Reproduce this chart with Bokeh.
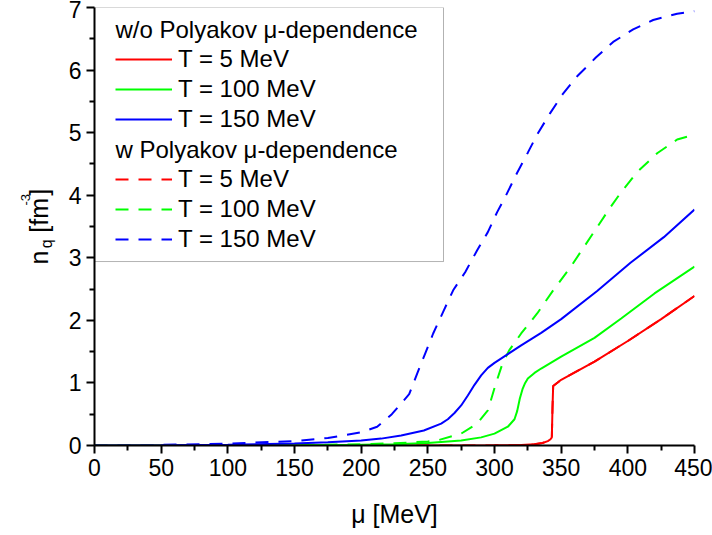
import math
from bokeh.plotting import figure
from bokeh.layouts import row
from bokeh.models import Range1d, Legend, LegendItem, Label, BoxAnnotation, FixedTicker, ColumnDataSource
from bokeh.core.properties import value
from bokeh.embed import file_html
from bokeh.resources import INLINE

# ---------------- data ----------------
x_ticks = [0, 50, 100, 150, 200, 250, 300, 350, 400, 450]
x_minor = [25, 75, 125, 175, 225, 275, 325, 375, 425]
y_ticks = [0, 1, 2, 3, 4, 5, 6, 7]
y_minor = [0.5, 1.5, 2.5, 3.5, 4.5, 5.5, 6.5]

# w/o Polyakov mu-dependence
mu_t5 = [0, 100, 200, 300, 320, 330, 336, 340, 342, 343, 343.5, 344, 350, 375, 400, 425, 450]
n_t5 = [0, 0, 0, 0.002, 0.008, 0.02, 0.04, 0.07, 0.1, 0.13, 0.6, 0.95, 1.05, 1.34, 1.67, 2.02, 2.39]

mu_t100 = [0, 100, 150, 200, 225, 250, 275, 290, 300, 310, 315, 317, 319, 321, 323, 325, 330, 335,
           350, 375, 395, 420, 450]
n_t100 = [0, 0.002, 0.005, 0.012, 0.02, 0.04, 0.08, 0.13, 0.19, 0.3, 0.42, 0.55, 0.75, 0.9, 1.0, 1.07,
          1.16, 1.23, 1.42, 1.72, 2.03, 2.43, 2.86]

mu_t150 = [0, 50, 100, 150, 175, 200, 215, 230, 247, 260, 265, 270, 275, 280, 285, 290, 295, 300,
           310, 320, 335, 350, 377, 402, 427, 450]
n_t150 = [0, 0.004, 0.012, 0.03, 0.05, 0.08, 0.11, 0.16, 0.24, 0.35, 0.42, 0.52, 0.64, 0.8, 0.97,
          1.12, 1.24, 1.32, 1.46, 1.6, 1.8, 2.02, 2.47, 2.92, 3.33, 3.77]

# w Polyakov mu-dependence
mu_t5_w = [0, 100, 200, 300, 320, 330, 336, 340, 342, 343, 343.5, 344, 350, 375, 400, 425, 450]
n_t5_w = [0, 0, 0, 0.002, 0.008, 0.02, 0.04, 0.07, 0.1, 0.13, 0.6, 0.95, 1.05, 1.34, 1.67, 2.02, 2.39]

mu_t100_w = [0, 100, 150, 200, 225, 250, 257, 275, 287, 295, 301, 306, 311, 320, 332, 344, 357, 367,
             377, 387, 395, 407, 422, 437, 450]
n_t100_w = [0, 0.003, 0.008, 0.02, 0.035, 0.065, 0.08, 0.19, 0.35, 0.56, 0.99, 1.31, 1.52, 1.79, 2.11,
            2.48, 2.85, 3.17, 3.49, 3.81, 4.05, 4.37, 4.67, 4.89, 4.97]

mu_t150_w = [0, 50, 100, 150, 175, 200, 212, 223, 236, 242, 248, 254, 262, 269, 278, 287, 295, 302,
             308, 317, 325, 332, 342, 351, 362, 376, 389, 404, 419, 437, 450]
n_t150_w = [0, 0.01, 0.03, 0.07, 0.12, 0.21, 0.3, 0.5, 0.82, 1.15, 1.47, 1.79, 2.16, 2.48, 2.77, 3.12,
            3.41, 3.73, 3.97, 4.36, 4.68, 4.97, 5.32, 5.61, 5.9, 6.2, 6.45, 6.65, 6.8, 6.9, 6.94]

labels_T = ["T = 5 MeV", "T = 100 MeV", "T = 150 MeV"]
header_wo = "w/o Polyakov \u03bc-dependence"
header_w = "w Polyakov \u03bc-dependence"
ylabel_parts = ["n", "q", "[fm", "-3", "]"]

FONT = "Liberation Sans"
RED, GREEN, BLUE = "#ff0000", "#00ff00", "#0000ff"
DASH = "13 10"

# ---------------- main plot ----------------
p = figure(width=652, height=535, output_backend="svg", toolbar_location=None, title=None,
           x_range=Range1d(0, 450), y_range=Range1d(0, 7),
           min_border_left=34, min_border_right=18, min_border_top=7, min_border_bottom=90)
p.outline_line_color = None
p.xgrid.visible = False
p.ygrid.visible = False

p.xaxis.ticker = FixedTicker(ticks=x_ticks, minor_ticks=x_minor)
p.yaxis.ticker = FixedTicker(ticks=y_ticks, minor_ticks=y_minor)
for ax in (p.xaxis, p.yaxis):
    ax.axis_line_width = 2
    ax.axis_line_color = "black"
    ax.major_tick_out = 8
    ax.major_tick_in = 0
    ax.minor_tick_out = 5
    ax.minor_tick_in = 0
    ax.major_tick_line_width = 2
    ax.minor_tick_line_width = 2
    ax.major_tick_line_color = "black"
    ax.minor_tick_line_color = "black"
    ax.major_label_text_font = FONT
    ax.major_label_text_font_size = "23px"
    ax.major_label_text_color = "black"
    ax.major_label_standoff = 5

p.xaxis.axis_label = "\u03bc [MeV]"
p.xaxis.axis_label_text_font = FONT
p.xaxis.axis_label_text_font_size = "25px"
p.xaxis.axis_label_text_font_style = "normal"
p.xaxis.axis_label_text_color = "black"
p.xaxis.axis_label_standoff = 21

# legend box
box = BoxAnnotation(left=0, right=261.75, top=7, bottom=2.94, fill_color="white", fill_alpha=1,
                    line_color="black", line_width=1, level="underlay")
p.add_layout(box)

# curves (dashed T=5 lies under the solid T=5)
r5w = p.line(mu_t5_w, n_t5_w, line_color=RED, line_width=2, line_dash=DASH)
r100w = p.line(mu_t100_w, n_t100_w, line_color=GREEN, line_width=2, line_dash=DASH)
r150w = p.line(mu_t150_w, n_t150_w, line_color=BLUE, line_width=2, line_dash=DASH)
r5 = p.line(mu_t5, n_t5, line_color=RED, line_width=2)
r100 = p.line(mu_t100, n_t100, line_color=GREEN, line_width=2)
r150 = p.line(mu_t150, n_t150, line_color=BLUE, line_width=2)

h1 = p.line([], [], line_alpha=0)
h2 = p.line([], [], line_alpha=0)

items = [
    LegendItem(label=" ", renderers=[h1]),
    LegendItem(label=labels_T[0], renderers=[r5]),
    LegendItem(label=labels_T[1], renderers=[r100]),
    LegendItem(label=labels_T[2], renderers=[r150]),
    LegendItem(label=" ", renderers=[h2]),
    LegendItem(label=labels_T[0], renderers=[r5w]),
    LegendItem(label=labels_T[1], renderers=[r100w]),
    LegendItem(label=labels_T[2], renderers=[r150w]),
]
legend = Legend(items=items, location=(21, 191), padding=0, margin=0, spacing=0,
                label_height=30, glyph_height=20, glyph_width=57, label_standoff=6,
                label_text_font=FONT, label_text_font_size="24px", label_text_color="black",
                border_line_alpha=0, background_fill_alpha=0)
p.add_layout(legend)

for txt, yv in ((header_wo, 6.65), (header_w, 4.73)):
    p.add_layout(Label(x=15.75, y=yv, text=txt, text_baseline="middle", text_align="left",
                       text_font=FONT, text_font_size="24px", text_color="black", level="overlay"))

# ---------------- y-axis title panel: n_q [fm^-3] ----------------
q = figure(width=60, height=535, output_backend="svg", toolbar_location=None, title=None,
           x_range=Range1d(0, 60), y_range=Range1d(0, 535),
           x_axis_location=None, y_axis_location=None,
           min_border_left=0, min_border_right=0, min_border_top=0, min_border_bottom=0)
q.xgrid.visible = False
q.ygrid.visible = False
q.outline_line_color = None
src = ColumnDataSource(dict(
    x=[38, 46, 38, 25, 38],
    y=[221, 241, 260, 293, 305],
    text=ylabel_parts,
    size=["25px", "16px", "25px", "13px", "25px"],
))
q.text(x="x", y="y", text="text", source=src, angle=math.pi / 2,
       text_font=value(FONT), text_font_size="size", text_color="black",
       text_align="left", text_baseline="alphabetic")

layout = row(q, p)
open("out.html", "w").write(file_html(layout, INLINE))
